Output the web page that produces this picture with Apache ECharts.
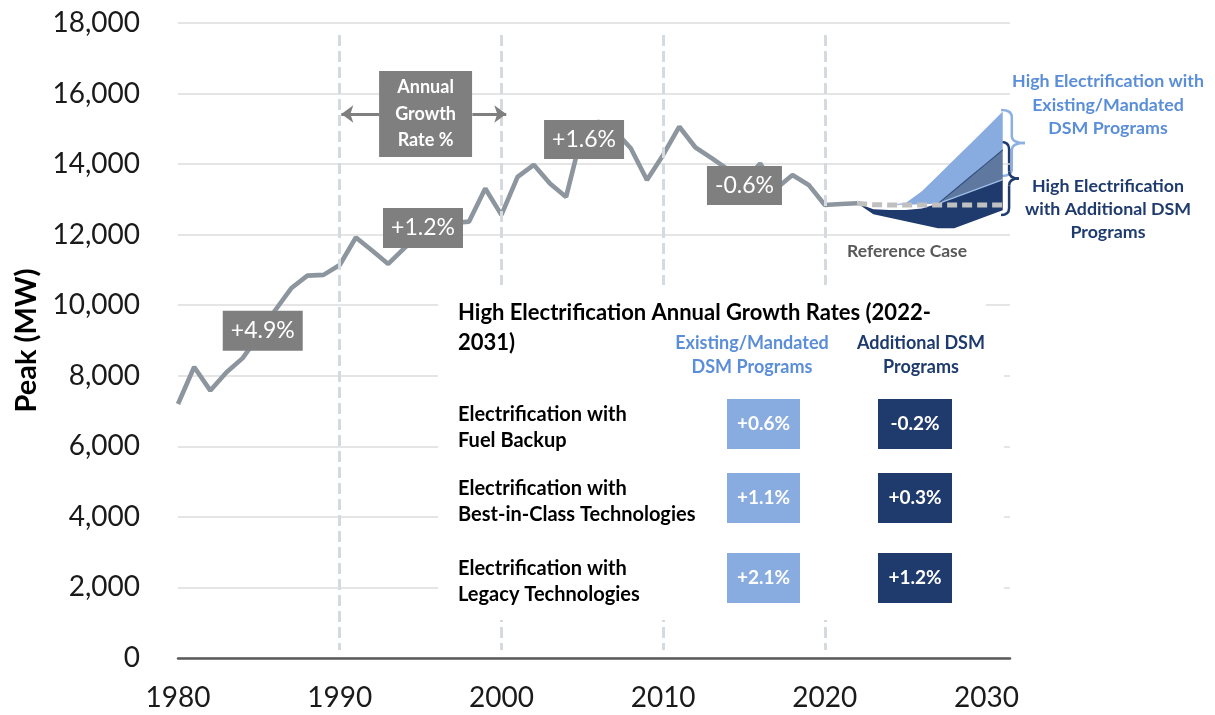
<!DOCTYPE html>
<html>
<head>
<meta charset="utf-8">
<script src="https://cdn.jsdelivr.net/npm/echarts@6/dist/echarts.min.js"></script>
<style>
  html, body { margin: 0; padding: 0; background: #fff; }
  #main { width: 1215px; height: 715px; }
</style>
</head>
<body>
<div id="main"></div>
<script>
// historical peak (MW)
const histYears = [1980, 1981, 1982, 1983, 1984, 1985, 1986, 1987, 1988, 1989,
  1990, 1991, 1992, 1993, 1994, 1995, 1996, 1997, 1998, 1999,
  2000, 2001, 2002, 2003, 2004, 2005, 2006, 2007, 2008, 2009,
  2010, 2011, 2012, 2013, 2014, 2015, 2016, 2017, 2018, 2019,
  2020, 2021, 2022];
const histPeak = [7200, 8250, 7580, 8100, 8500, 9150, 9850, 10480, 10840, 10860,
  11140, 11920, 11550, 11170, 11620, 12000, 12150, 12330, 12370, 13310,
  12560, 13640, 13980, 13450, 13070, 14900, 15200, 14950, 14450, 13550,
  14260, 15060, 14470, 14170, 13850, 13500, 14020, 13310, 13690, 13410,
  12840, 12870, 12890];

// forecast 2022-2031
const projYears = [2022, 2023, 2024, 2025, 2026, 2027, 2028, 2029, 2030, 2031];
const referenceCase = [12890, 12850, 12840, 12840, 12840, 12840, 12840, 12840, 12840, 12840];
const existingHigh = [12890, 12860, 12850, 12900, 13230, 13680, 14130, 14580, 15030, 15490];
const existingLow = [12890, 12860, 12850, 12850, 12860, 12880, 13050, 13220, 13390, 13560];
const additionalHigh = [12890, 12720, 12700, 12700, 12740, 12880, 13260, 13640, 14020, 14400];
const additionalLow = [12890, 12580, 12480, 12380, 12280, 12180, 12180, 12350, 12520, 12690];

// growth rate call-outs
const periodLabels = ['+4.9%', '+1.2%', '+1.6%', '-0.6%'];
const periodBoundaries = [1990, 2000, 2010, 2020];

// table
const tableRows = ['Electrification with\nFuel Backup',
  'Electrification with\nBest-in-Class Technologies',
  'Electrification with\nLegacy Technologies'];
const existingRates = ['+0.6%', '+1.1%', '+2.1%'];
const additionalRates = ['-0.2%', '+0.3%', '+1.2%'];

const xTicks = [1980, 1990, 2000, 2010, 2020, 2030];

const FONT = 'Lato, "Open Sans", sans-serif';
const GRAY = '#7f7f7f';
const LIGHT = '#88abe0';
const MID = '#5e789f';
const NAVY = '#1f3b6e';
const LIGHT_TXT = '#5b8ed8';

const myChart = echarts.init(document.getElementById('main'));

// stacked bands of the forecast fan
const navyUpper = additionalHigh.map((v, i) => Math.min(v, existingLow[i]));
const midUpper = additionalHigh.map((v, i) => Math.max(v, existingLow[i]));
const bands = [
  { lower: additionalLow, upper: navyUpper, color: NAVY },
  { lower: existingLow, upper: midUpper, color: MID },
  { lower: midUpper, upper: existingHigh, color: LIGHT }
];

// curly brace "}" made of curves and lines
function brace(x0, y0, y1, w, color) {
  const xm = x0 + w * 0.45, ym = (y0 + y1) / 2, r = 7;
  const st = { stroke: color, lineWidth: 2.5, fill: 'none' };
  return {
    type: 'group', z: 11,
    children: [
      { type: 'bezierCurve', shape: { x1: x0, y1: y0, cpx1: xm, cpy1: y0, x2: xm, y2: y0 + r }, style: st },
      { type: 'line', shape: { x1: xm, y1: y0 + r, x2: xm, y2: ym - r }, style: st },
      { type: 'bezierCurve', shape: { x1: xm, y1: ym - r, cpx1: xm, cpy1: ym, x2: x0 + w, y2: ym }, style: st },
      { type: 'bezierCurve', shape: { x1: x0 + w, y1: ym, cpx1: xm, cpy1: ym, x2: xm, y2: ym + r }, style: st },
      { type: 'line', shape: { x1: xm, y1: ym + r, x2: xm, y2: y1 - r }, style: st },
      { type: 'bezierCurve', shape: { x1: xm, y1: y1 - r, cpx1: xm, cpy1: y1, x2: x0, y2: y1 }, style: st }
    ]
  };
}

// table graphics
const table = [
  { type: 'rect', shape: { x: 438, y: 285, width: 548, height: 48 }, style: { fill: '#fff' }, z: 10 },
  { type: 'rect', shape: { x: 438, y: 333, width: 566, height: 287 }, style: { fill: '#fff' }, z: 10 },
  {
    type: 'text', z: 11, x: 458, y: 328,
    style: {
      text: 'High Electrification Annual Growth Rates (2022-\n2031)', fontFamily: FONT,
      fontSize: 22, fontWeight: 'bold', fill: '#000', lineHeight: 30, verticalAlign: 'middle'
    }
  },
  {
    type: 'text', z: 11, x: 752, y: 355,
    style: {
      text: 'Existing/Mandated\nDSM Programs', fontFamily: FONT, fontSize: 18, fontWeight: 'bold',
      fill: LIGHT_TXT, lineHeight: 24, align: 'center', verticalAlign: 'middle'
    }
  },
  {
    type: 'text', z: 11, x: 921, y: 355,
    style: {
      text: 'Additional DSM\nPrograms', fontFamily: FONT, fontSize: 18, fontWeight: 'bold',
      fill: NAVY, lineHeight: 24, align: 'center', verticalAlign: 'middle'
    }
  }
];
const rowCenters = [424, 498, 578];
tableRows.forEach((label, i) => {
  const cy = rowCenters[i];
  table.push({
    type: 'text', z: 11, x: 458, y: cy + 4,
    style: { text: label, fontFamily: FONT, fontSize: 20, fontWeight: 'bold', fill: '#000', lineHeight: 26, verticalAlign: 'middle' }
  });
  table.push({ type: 'rect', z: 11, shape: { x: 727, y: cy - 25, width: 73, height: 50 }, style: { fill: LIGHT } });
  table.push({ type: 'rect', z: 11, shape: { x: 878, y: cy - 25, width: 74, height: 50 }, style: { fill: NAVY } });
  table.push({
    type: 'text', z: 12, x: 763.5, y: cy,
    style: { text: existingRates[i], fontFamily: FONT, fontSize: 19, fontWeight: 'bold', fill: '#fff', align: 'center', verticalAlign: 'middle' }
  });
  table.push({
    type: 'text', z: 12, x: 915, y: cy,
    style: { text: additionalRates[i], fontFamily: FONT, fontSize: 19, fontWeight: 'bold', fill: '#fff', align: 'center', verticalAlign: 'middle' }
  });
});

const labels = [
  {
    type: 'text', z: 11, x: 1108, y: 105,
    style: {
      text: 'High Electrification with\nExisting/Mandated\nDSM Programs', fontFamily: FONT, fontSize: 17.8,
      fontWeight: 'bold', fill: LIGHT_TXT, lineHeight: 23.5, align: 'center', verticalAlign: 'middle'
    }
  },
  {
    type: 'text', z: 11, x: 1108, y: 209,
    style: {
      text: 'High Electrification\nwith Additional DSM\nPrograms', fontFamily: FONT, fontSize: 17.8,
      fontWeight: 'bold', fill: NAVY, lineHeight: 23, align: 'center', verticalAlign: 'middle'
    }
  },
  {
    type: 'text', z: 11, x: 847, y: 251,
    style: { text: 'Reference Case', fontFamily: FONT, fontSize: 17.5, fontWeight: 'bold', fill: '#595959', verticalAlign: 'middle' }
  },
  brace(1001, 110, 176, 24, '#8db0e3'),
  brace(1001, 142, 215, 18, NAVY)
];

const option = {
  animation: false,
  grid: { left: 178, right: 205, top: 23, bottom: 57 },
  xAxis: {
    type: 'value',
    min: 1980,
    max: 2031.45,
    interval: 10,
    axisLine: { lineStyle: { color: '#595959', width: 2.5 } },
    axisTick: { show: false },
    splitLine: { show: false },
    axisLabel: {
      fontFamily: FONT, fontSize: 28, color: '#1a1a1a', margin: 26, showMaxLabel: false,
      formatter: v => (xTicks.indexOf(v) >= 0 ? String(v) : '')
    }
  },
  yAxis: {
    type: 'value',
    min: 0,
    max: 18000,
    interval: 2000,
    name: 'Peak (MW)',
    nameLocation: 'middle',
    nameGap: 131,
    nameTextStyle: { fontFamily: FONT, fontSize: 29, fontWeight: 'bold', color: '#000' },
    axisLine: { show: false },
    axisTick: { show: false },
    axisLabel: { fontFamily: FONT, fontSize: 28, color: '#1a1a1a', margin: 38 },
    splitLine: { lineStyle: { color: '#dcdcdc', width: 1.5 } }
  },
  graphic: table.concat(labels),
  series: [
    {
      type: 'custom',
      z: 1,
      silent: true,
      data: bands.map(b => [projYears[0], b.lower[0]]),
      renderItem: function (params, api) {
        const b = bands[params.dataIndex];
        const pts = [];
        projYears.forEach((y, i) => pts.push(api.coord([y, b.lower[i]])));
        for (let i = projYears.length - 1; i >= 0; i--) pts.push(api.coord([projYears[i], b.upper[i]]));
        return { type: 'polygon', shape: { points: pts }, style: { fill: b.color } };
      }
    },
    {
      type: 'line',
      z: 2,
      silent: true,
      showSymbol: false,
      data: projYears.map((y, i) => [y, existingLow[i]]).slice(5),
      lineStyle: { color: '#9dbde8', width: 1.2 }
    },
    {
      type: 'line',
      z: 2,
      silent: true,
      showSymbol: false,
      data: projYears.map((y, i) => [y, additionalHigh[i]]).slice(5),
      lineStyle: { color: '#34507f', width: 1.2 }
    },
    {
      type: 'line',
      name: 'Reference Case',
      z: 3,
      silent: true,
      showSymbol: false,
      data: projYears.map((y, i) => [y, referenceCase[i]]),
      lineStyle: { color: '#c0c0c0', width: 5, type: [10, 5] },
      markLine: {
        silent: true,
        symbol: 'none',
        label: { show: false },
        lineStyle: { color: '#d5dae0', width: 3, type: [11, 5] },
        data: periodBoundaries.map(x => [{ coord: [x, 17660] }, { coord: [x, 230] }])
      }
    },
    {
      type: 'line',
      name: 'Peak',
      z: 4,
      silent: true,
      showSymbol: false,
      data: histYears.map((y, i) => [y, histPeak[i]]),
      lineStyle: { color: '#8d969e', width: 4.6 },
      markLine: {
        silent: true,
        symbol: ['none', 'arrow'],
        symbolSize: [13, 12],
        label: { show: false },
        lineStyle: { color: GRAY, width: 3, type: 'solid' },
        data: [
          [{ coord: [1992.43, 15420] }, { coord: [1990.1, 15420] }],
          [{ coord: [1998.2, 15420] }, { coord: [2000.3, 15420] }]
        ]
      },
      markPoint: {
        silent: true,
        symbol: 'rect',
        itemStyle: { color: GRAY },
        label: { show: true, position: 'inside', formatter: '{b}', color: '#fff', fontFamily: FONT, fontSize: 23 },
        data: [
          { name: periodLabels[0], coord: [1985.24, 9278], symbolSize: [80, 40] },
          { name: periodLabels[1], coord: [1995.15, 12189], symbolSize: [80, 40] },
          { name: periodLabels[2], coord: [2005.11, 14697], symbolSize: [80, 39] },
          { name: periodLabels[3], coord: [2015.03, 13394], symbolSize: [75, 39] },
          {
            name: 'Annual\nGrowth\nRate %', coord: [1995.31, 15420], symbolSize: [93, 86],
            label: { fontSize: 18, fontWeight: 'bold', lineHeight: 26.5 }
          }
        ]
      }
    }
  ]
};
myChart.setOption(option);
</script>
</body>
</html>
